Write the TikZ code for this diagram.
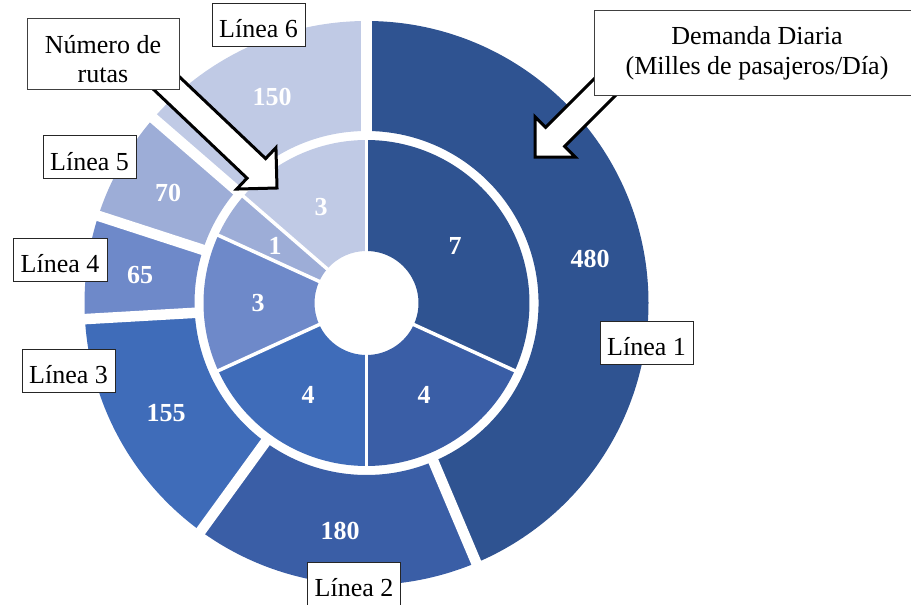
\documentclass[tikz,border=0pt]{standalone}
\usepackage{fontspec}
\setmainfont{Liberation Serif}

% series colours, darkest to lightest
\definecolor{lineA}{HTML}{2F5391}
\definecolor{lineB}{HTML}{3A5EA6}
\definecolor{lineC}{HTML}{3F6CB9}
\definecolor{lineD}{HTML}{6E89C9}
\definecolor{lineE}{HTML}{9DADD7}
\definecolor{lineF}{HTML}{C0CAE5}

% annular sector: colour, start angle, end angle, inner radius, outer radius
\newcommand\ringpart[5]{%
  \fill[#1] ([shift={(#2:#4pt)}]ctr) -- ([shift={(#2:#5pt)}]ctr)
    arc[start angle=#2, end angle=#3, radius=#5pt]
    -- ([shift={(#3:#4pt)}]ctr)
    arc[start angle=#3, end angle=#2, radius=#4pt] -- cycle;}

\tikzset{
  seriesbox/.style={draw=black!85, line width=0.9pt, fill=white,
    minimum width=93pt, minimum height=43pt, inner sep=0pt,
    text height=26.6pt, text depth=0pt, font=\fontsize{26}{29.4}\selectfont},
  calloutbox/.style={draw=black!75, line width=0.9pt, fill=white, inner sep=0pt},
  valuetext/.style={text=white, inner sep=0pt,
    font=\fontsize{26}{30}\selectfont\bfseries},
  callarrow/.style={draw=black, line width=3pt, fill=white, line join=miter},
  outergap/.style={white, line width=10.5pt},
  innergap/.style={white, line width=3.5pt},
}

\begin{document}
\begin{tikzpicture}[x=1pt, y=1pt]
\useasboundingbox (0,0) rectangle (911,-605);
\clip (0,0) rectangle (911,-605);
\coordinate (ctr) at (366.5,-303);

% outer ring: daily demand (the largest slice sits slightly lower)
\begin{scope}[yshift=-3.5pt]
  \ringpart{lineA}{90}{-67.091}{172}{282}
\end{scope}
\ringpart{lineB}{-67.091}{-126}{172}{282}
\ringpart{lineC}{-126}{-176.727}{172}{282}
\ringpart{lineD}{-176.727}{-198}{172}{282}
\ringpart{lineE}{-198}{-220.909}{172}{282}
\ringpart{lineF}{-220.909}{-270}{172}{282}

% inner ring: number of routes
\ringpart{lineA}{90}{-24.545}{52}{163}
\ringpart{lineB}{-24.545}{-90}{52}{163}
\ringpart{lineC}{-90}{-155.455}{52}{163}
\ringpart{lineD}{-155.455}{-204.545}{52}{163}
\ringpart{lineE}{-204.545}{-220.909}{52}{163}
\ringpart{lineF}{-220.909}{-270}{52}{163}

% white borders between slices
\foreach \a in {90,-67.091,-126,-176.727,-198,-220.909}
  \draw[outergap] ([shift={(\a:168pt)}]ctr) -- ([shift={(\a:288pt)}]ctr);
\foreach \a in {90,-24.545,-90,-155.455,-204.545,-220.909}
  \draw[innergap] ([shift={(\a:48pt)}]ctr) -- ([shift={(\a:166pt)}]ctr);

% values, outer ring
\node[valuetext] (v480) at (590,-259) {480};
\node[valuetext] (v180) at (340,-531) {180};
\node[valuetext] (v155) at (166,-413) {155};
\node[valuetext] (v65)  at (140,-275) {65};
\node[valuetext] (v70)  at (168,-193) {70};
\node[valuetext] (v150) at (272,-97)  {150};

% values, inner ring
\node[valuetext] (r1) at (455,-246) {7};
\node[valuetext] (r2) at (424,-395) {4};
\node[valuetext] (r3) at (308,-395) {4};
\node[valuetext] (r4) at (258,-303) {3};
\node[valuetext] (r5) at (275,-246) {1};
\node[valuetext] (r6) at (321,-207) {3};

% block arrows from the callouts
\coordinate (tipRoutes) at (277,-188);
\begin{scope}[shift={(tipRoutes)}, rotate=-43.5]
  \draw[callarrow] (0,0) -- (-28.5,28.5) -- (-28.5,13.5) -- (-170,13.5)
    -- (-170,-13.5) -- (-28.5,-13.5) -- (-28.5,-28.5) -- cycle;
\end{scope}
\coordinate (tipDemand) at (535,-157);
\begin{scope}[shift={(tipDemand)}, rotate=-135]
  \draw[callarrow] (0,0) -- (-28.5,28.5) -- (-28.5,13.5) -- (-115,13.5)
    -- (-115,-13.5) -- (-28.5,-13.5) -- (-28.5,-28.5) -- cycle;
\end{scope}

% callout boxes
\node[calloutbox, minimum width=152pt, minimum height=71pt,
      text height=30pt, text depth=30pt,
      font=\fontsize{26}{29.4}\selectfont] (routes) at (103,-53.5)
  {\begin{tabular}[t]{@{}c@{}}Número de\\rutas\end{tabular}};
\node[calloutbox, minimum width=326pt, minimum height=85pt,
      text height=25pt, text depth=40pt,
      font=\fontsize{26}{29}\selectfont] (demand) at (757,-52.5)
  {\begin{tabular}[t]{@{}c@{}}Demanda Diaria\\(Milles de pasajeros/Día)\end{tabular}};

% series labels
\node[seriesbox] (lab6) at (258.5,-24.5) {Línea 6};
\node[seriesbox] (lab5) at (89.5,-157) {Línea 5};
\node[seriesbox, minimum width=94pt] (lab4) at (60,-259.5) {Línea 4};
\node[seriesbox] (lab3) at (68.5,-370.5) {Línea 3};
\node[seriesbox] (lab2) at (354,-583.5) {Línea 2};
\node[seriesbox] (lab1) at (646.5,-342.5) {Línea 1};
\end{tikzpicture}
\end{document}
